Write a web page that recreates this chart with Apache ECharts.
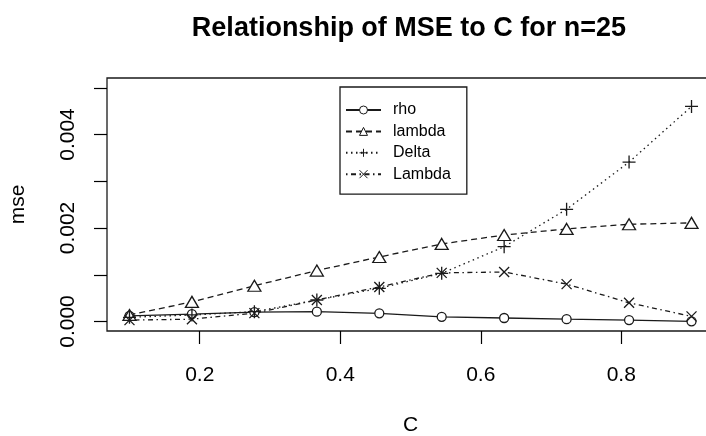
<!DOCTYPE html>
<html>
<head>
<meta charset="utf-8">
<script src="https://cdn.jsdelivr.net/npm/echarts@6/dist/echarts.min.js"></script>
<style>
html,body{margin:0;padding:0;background:#fff;}
#chart{width:706px;height:436px;}
</style>
</head>
<body>
<div id="chart"></div>
<script>
// Data
const cValues = [0.1, 0.1889, 0.2778, 0.3667, 0.4556, 0.5444, 0.6333, 0.7222, 0.8111, 0.9];
const rho    = [0.00012, 0.00016, 0.00020, 0.00021, 0.000175, 0.00010, 0.000075, 0.00005, 0.00003, 0.000005];
const lambda = [0.00014, 0.00042, 0.000765, 0.00109, 0.00138, 0.00166, 0.00185, 0.00198, 0.00208, 0.00211];
const Delta  = [0.00009, 0.00014, 0.00021, 0.00046, 0.00071, 0.00103, 0.00160, 0.00240, 0.00341, 0.00460];
const Lambda = [0.00003, 0.00005, 0.00018, 0.00046, 0.00074, 0.00104, 0.00106, 0.00080, 0.00040, 0.00011];
const xTicks = [0.2, 0.4, 0.6, 0.8];
const yTicks = [0, 0.001, 0.002, 0.003, 0.004, 0.005];
const yLabels = [0, 0.002, 0.004];

const FONT = 'Liberation Sans, Arial, sans-serif';
const INK = '#1a1a1a';
const LW = 1.3;

function pairs(ys) { return cValues.map((c, i) => [c, ys[i]]); }

const plusPath = 'path://M0,5L10,5M5,0L5,10';
const crossPath = 'path://M0,0L10,10M10,0L0,10';

function mkSeries(name, ys, symbol, size, dash, fill) {
  return {
    name: name,
    type: 'line',
    data: pairs(ys),
    symbol: symbol,
    symbolSize: size,
    showSymbol: true,
    animation: false,
    lineStyle: { color: INK, width: LW, type: dash },
    itemStyle: { color: fill, borderColor: INK, borderWidth: LW },
    emphasis: { disabled: true },
    z: 3
  };
}

const chart = echarts.init(document.getElementById('chart'), null, { renderer: 'canvas' });
chart.setOption({
  animation: false,
  backgroundColor: '#fff',
  title: {
    text: 'Relationship of MSE to C for n=25',
    left: 404, top: 10, textAlign: 'center',
    textStyle: { fontFamily: FONT, fontSize: 27, fontWeight: 'bold', color: '#000' }
  },
  grid: {
    show: true, left: 107, top: 78, width: 607, height: 253,
    outerBoundsMode: 'none',
    borderColor: INK, borderWidth: LW, backgroundColor: 'transparent'
  },
  legend: {
    orient: 'vertical', left: 340, top: 87,
    padding: [15, 16, 12, 5],
    itemWidth: 35, itemHeight: 10, itemGap: 5.4,
    borderColor: INK, borderWidth: LW, backgroundColor: '#fff',
    itemStyle: { borderWidth: 1 },
    textStyle: { fontFamily: FONT, fontSize: 16, color: '#000', padding: [0, 0, 0, 7] },
    data: ['rho', 'lambda', 'Delta', 'Lambda'],
    selectedMode: false
  },
  xAxis: {
    type: 'value', min: 0.068, max: 0.932,
    name: 'C', nameLocation: 'middle', nameGap: 84,
    nameTextStyle: { fontFamily: FONT, fontSize: 21, color: '#000' },
    axisLine: { show: false, onZero: false },
    axisTick: { show: true, length: 13, customValues: xTicks, lineStyle: { color: '#000', width: 1.2 } },
    axisLabel: { customValues: xTicks, margin: 34, fontFamily: FONT, fontSize: 21, color: '#000',
      formatter: v => v.toFixed(1) },
    splitLine: { show: false }
  },
  yAxis: {
    type: 'value', min: -0.000203, max: 0.005209,
    name: 'mse', nameLocation: 'middle', nameGap: 78, nameRotate: 90,
    nameTextStyle: { fontFamily: FONT, fontSize: 21, color: '#000' },
    axisLine: { show: false, onZero: false },
    axisTick: { show: true, length: 13, customValues: yTicks, lineStyle: { color: '#000', width: 1.2 } },
    axisLabel: { customValues: yLabels, rotate: 90, margin: 28, fontFamily: FONT, fontSize: 21, color: '#000',
      formatter: v => v.toFixed(3) },
    splitLine: { show: false }
  },
  series: [
    mkSeries('rho', rho, 'circle', 9, 'solid', '#fff'),
    mkSeries('lambda', lambda, 'triangle', [13, 11], [6, 4], '#fff'),
    mkSeries('Delta', Delta, plusPath, 13, [1.5, 3.5], INK),
    mkSeries('Lambda', Lambda, crossPath, 10, [1.5, 3.5, 5, 3.5], INK)
  ]
});
</script>
</body>
</html>
